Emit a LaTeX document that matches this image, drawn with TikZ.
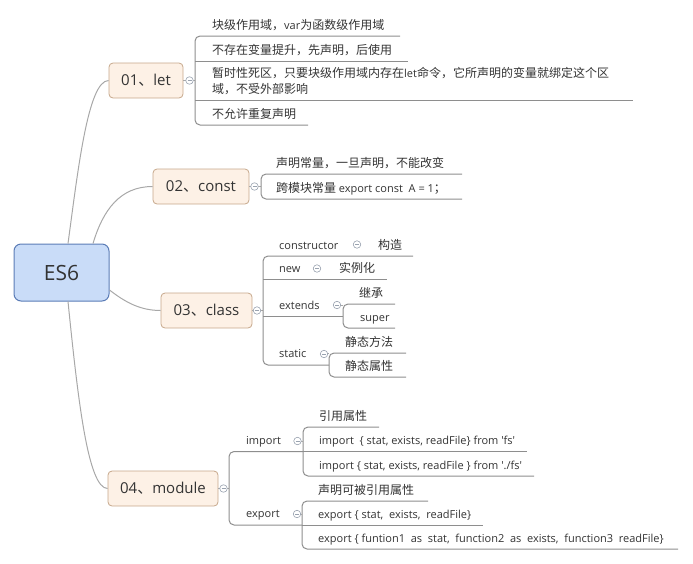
\documentclass[tikz,border=0pt]{standalone}
\usepackage{fontspec}
\setmainfont{Open Sans}
\newfontfamily\cjk{Noto Sans CJK SC}
\usepackage{tikz}
\usetikzlibrary{positioning,calc}
\definecolor{rootfill}{HTML}{C9DCF8}
\definecolor{rootline}{HTML}{5B7CB6}
\definecolor{topicfill}{HTML}{FDF1E6}
\definecolor{topicline}{HTML}{C6A78B}
\definecolor{linegray}{HTML}{A8A8A8}
\definecolor{ulgray}{HTML}{8E8E8E}
\definecolor{foldgray}{HTML}{9AA3B0}
\definecolor{txt}{HTML}{333333}
\newcommand{\lat}[1]{{\rmfamily\fontsize{11}{16}\selectfont #1}}
\tikzset{
    rootnode/.style={draw=rootline, fill=rootfill, line width=1pt, rounded corners=7pt,
        minimum width=95pt, minimum height=57pt, text=txt, font=\fontsize{21}{21}\selectfont},
    topicbox/.style={draw=topicline, fill=topicfill, line width=0.8pt, rounded corners=4pt,
        minimum height=35pt, text=txt, font=\fontsize{15}{15}\selectfont},
    leaftext/.style={anchor=base west, inner sep=0pt, text=txt, font=\cjk\fontsize{12}{16}\selectfont},
    codetext/.style={anchor=base west, inner sep=0pt, text=txt, font=\fontsize{11}{14}\selectfont},
    foldmark/.style={circle, draw=foldgray, fill=white, line width=0.6pt, inner sep=0pt, minimum size=7.5pt,
        path picture={\draw[foldgray, line width=0.6pt] ([xshift=-2pt]path picture bounding box.center)
        -- ([xshift=2pt]path picture bounding box.center);}},
    graylink/.style={draw=linegray, line width=1pt},
    underl/.style={draw=ulgray, line width=1pt, rounded corners=5pt}
}
\begin{document}
\begin{tikzpicture}[x=1pt, y=-1pt]
\useasboundingbox (0,0) rectangle (693,563);

% root and main topics
\node[rootnode] (es6) at (61.5,272.5) {ES6};
\node[topicbox, minimum width=74pt] (let) at (146,80.5) {01{\cjk 、}let};
\node[topicbox, minimum width=96pt] (const) at (201,186.5) {02{\cjk 、}const};
\node[topicbox, minimum width=91pt] (class) at (206.5,310.5) {03{\cjk 、}class};
\node[topicbox, minimum width=110pt] (module) at (163,488.5) {04{\cjk 、}module};

% curves from root
\draw[graylink] ([xshift=6.5pt]es6.north) .. controls (78,170) and (88,80.5) .. (let.west);
\draw[graylink] ([xshift=31.5pt]es6.north) .. controls (103,210) and (120,186.5) .. (const.west);
\draw[graylink] ([yshift=-17.5pt]es6.east) .. controls (125,302) and (140,310.5) .. (class.west);
\draw[graylink] ([xshift=6.5pt]es6.south) .. controls (78,400) and (88,488.5) .. (module.west);

% 01 let
\draw[graylink] (let.east) -- (195,80.5);
\draw[underl] (400,36) -- (195,36) -- (195,125) -- (308,125);
\draw[underl] (195,61) -- (408,61);
\draw[underl] (195,100) -- (633,100);
\node[foldmark] (letfold) at (189.5,80.5) {};
\node[leaftext] (let1) at (212,29.5) {块级作用域，\lat{var}为函数级作用域};
\node[leaftext] (let2) at (212,54.5) {不存在变量提升，先声明，后使用};
\node[leaftext] (let3a) at (212,77.5) {暂时性死区，只要块级作用域内存在\lat{let}命令，它所声明的变量就绑定这个区};
\node[leaftext] (let3b) at (212,93.5) {域，不受外部影响};
\node[leaftext] (let4) at (212,118.5) {不允许重复声明};

% 02 const
\draw[graylink] (const.east) -- (261,186.5);
\draw[underl] (462,174) -- (261,174) -- (261,199) -- (462,199);
\node[foldmark] (constfold) at (254.5,186.5) {};
\node[leaftext] (const1) at (276,167.5) {声明常量，一旦声明，不能改变};
\node[leaftext] (const2) at (276,192.5) {跨模块常量 \lat{export const~ A = 1}；};

% 03 class
\draw[graylink] (class.east) -- (263,310.5);
\draw[underl] (413,256) -- (263,256) -- (263,365) -- (329,365);
\draw[underl] (263,279.5) -- (387,279.5);
\draw[underl] (263,316) -- (343,316);
\draw[underl] (395,304) -- (343,304) -- (343,328) -- (395,328);
\draw[underl] (406,353) -- (329,353) -- (329,377) -- (406,377);
\node[foldmark] (classfold) at (257,310.5) {};
\node[codetext] (ctor) at (279,249) {constructor};
\node[foldmark] (ctorfold) at (357,244.5) {};
\node[leaftext] (ctor1) at (378,249) {构造};
\node[codetext] (new) at (279,272.5) {new};
\node[foldmark] (newfold) at (317,268.5) {};
\node[leaftext] (new1) at (339,272.5) {实例化};
\node[codetext] (ext) at (279,309) {extends};
\draw[graylink] (337,305) -- (343,305);
\node[foldmark] (extfold) at (337,305) {};
\node[leaftext] (ext1) at (359,297.5) {继承};
\node[codetext] (ext2) at (360,321.5) {super};
\node[codetext] (stat) at (279,357.5) {static};
\draw[graylink] (324,353.5) -- (329,353.5);
\node[foldmark] (statfold) at (324,354) {};
\node[leaftext] (stat1) at (345,346.5) {静态方法};
\node[leaftext] (stat2) at (345,370.5) {静态属性};

% 04 module
\draw[graylink] (module.east) -- (229,488.5);
\draw[underl] (303,451.5) -- (229,451.5) -- (229,525) -- (302,525);
\draw[underl] (379,427) -- (303,427) -- (303,476) -- (534,476);
\draw[underl] (303,451.5) -- (527,451.5);
\draw[underl] (428,501) -- (302,501) -- (302,549) -- (678,549);
\draw[underl] (302,525) -- (483,525);
\draw[graylink] (297.5,441) -- (303,441);
\draw[graylink] (297,514) -- (302,514);
\node[foldmark] (modfold) at (223.5,488.5) {};
\node[codetext] (imp) at (246,444.5) {import};
\node[foldmark] (impfold) at (297.5,441) {};
\node[leaftext] (imp1) at (319,420.5) {引用属性};
\node[codetext] (imp2) at (319,444.5) {import~ \{ stat, exists, readFile\} from \textquotesingle fs\textquotesingle};
\node[codetext] (imp3) at (319,469.5) {import \{ stat, exists, readFile \} from \textquotesingle./fs\textquotesingle};
\node[codetext] (exp) at (246,517.5) {export};
\node[foldmark] (expfold) at (297,514) {};
\node[leaftext] (exp1) at (318,494.5) {声明可被引用属性};
\node[codetext] (exp2) at (318,518.5) {export \{ stat,~ exists,~ readFile\}};
\node[codetext] (exp3) at (318,542.5) {export \{ funtion1~ as~ stat,~ function2~ as~ exists,~ function3~ readFile\}};
\end{tikzpicture}
\end{document}
